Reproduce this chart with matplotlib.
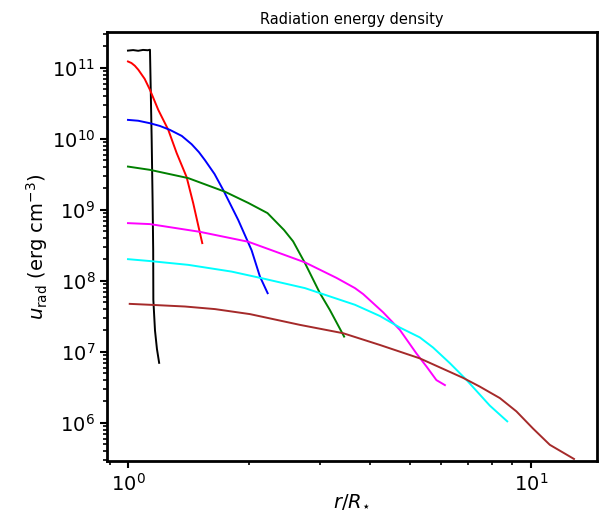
import matplotlib
matplotlib.use("Agg")
import matplotlib.pyplot as plt
from matplotlib.ticker import NullFormatter
import numpy as np

# ---- data ----
y_major_ticks = [1e6, 1e7, 1e8, 1e9, 1e10, 1e11]
x_major_ticks = [1, 10]

r_black = [1.0, 1.03, 1.06, 1.09, 1.12, 1.134, 1.145, 1.151, 1.155, 1.156, 1.167, 1.18, 1.195]
u_black = [1.75e11, 1.78e11, 1.74e11, 1.79e11, 1.77e11, 1.8e11, 1.0e10, 1.4e9, 2.7e8, 5.4e7, 2.0e7, 1.1e7, 7.0e6]

r_red = [1.0, 1.02, 1.04, 1.061, 1.10, 1.134, 1.189, 1.259, 1.321, 1.398, 1.452, 1.503, 1.529]
u_red = [1.23e11, 1.17e11, 1.07e11, 9.4e10, 7.0e10, 4.9e10, 2.56e10, 1.34e10, 6.3e9, 2.9e9, 1.24e9, 5.2e8, 3.4e8]

r_blue = [1.0, 1.06, 1.134, 1.2, 1.27, 1.36, 1.439, 1.5, 1.553, 1.64, 1.724, 1.878, 2.027, 2.126, 2.222]
u_blue = [1.85e10, 1.8e10, 1.66e10, 1.52e10, 1.34e10, 1.1e10, 8.4e9, 6.5e9, 5.0e9, 3.2e9, 1.9e9, 7.2e8, 2.7e8, 1.15e8, 6.7e7]

r_green = [1.0, 1.134, 1.411, 1.741, 1.99, 2.22, 2.44, 2.57, 2.75, 2.996, 3.17, 3.44]
u_green = [4.07e9, 3.66e9, 2.8e9, 1.8e9, 1.25e9, 9.0e8, 5.2e8, 3.6e8, 1.78e8, 6.7e7, 3.9e7, 1.64e7]

r_magenta = [1.0, 1.134, 1.509, 1.99, 2.273, 2.75, 3.294, 3.66, 3.837, 4.3, 4.73, 5.2, 5.51, 5.83, 6.12]
u_magenta = [6.5e8, 6.3e8, 4.9e8, 3.55e8, 2.7e8, 1.82e8, 1.1e8, 7.9e7, 6.5e7, 3.6e7, 2.04e7, 9.5e6, 6.2e6, 4.0e6, 3.4e6]

r_cyan = [1.0, 1.134, 1.411, 1.808, 2.147, 2.75, 3.66, 4.22, 4.73, 5.3, 5.72, 6.3, 6.92, 7.91, 8.74]
u_cyan = [2.02e8, 1.9e8, 1.68e8, 1.35e8, 1.09e8, 7.9e7, 4.6e7, 3.2e7, 2.2e7, 1.6e7, 1.15e7, 6.9e6, 4.04e6, 1.75e6, 1.05e6]

r_brown = [1.01, 1.134, 1.385, 1.644, 2.008, 2.67, 3.42, 4.22, 5.3, 6.79, 7.47, 8.38, 9.21, 10.13, 11.15, 12.8]
u_brown = [4.74e7, 4.6e7, 4.35e7, 4.0e7, 3.4e7, 2.4e7, 1.83e7, 1.25e7, 8.1e6, 4.3e6, 3.24e6, 2.23e6, 1.45e6, 8.3e5, 4.9e5, 3.1e5]

series = [
    (r_black, u_black, "black"),
    (r_red, u_red, "red"),
    (r_blue, u_blue, "blue"),
    (r_green, u_green, "green"),
    (r_magenta, u_magenta, "magenta"),
    (r_cyan, u_cyan, "cyan"),
    (r_brown, u_brown, "brown"),
]

fig = plt.figure(figsize=(6.1, 5.11), dpi=100)
ax = fig.add_axes([107/610, 1-461/511, (597-107)/610, (461-32)/511])

for r, u, c in series:
    ax.plot(r, u, color=c, lw=1.4)

ax.set_xscale("log")
ax.set_yscale("log")
ax.set_yticks(y_major_ticks)
ax.set_xticks(x_major_ticks)
ax.set_xlim(0.887, 14.6)
ax.set_ylim(2.9e5, 3.2e11)
ax.xaxis.set_minor_formatter(NullFormatter())
ax.yaxis.set_minor_formatter(NullFormatter())

for s in ax.spines.values():
    s.set_linewidth(2)
ax.tick_params(which="major", labelsize=14, width=1.5, length=5)
ax.tick_params(which="minor", width=1.2, length=3)

ax.set_title("Radiation energy density", fontsize=10.5)
ax.set_xlabel(r"$r/R_{\star}$", fontsize=14, labelpad=-2)
ax.set_ylabel(r"$u_{\rm rad}$ (erg cm$^{-3}$)", fontsize=14, labelpad=1)

fig.savefig("out.png", dpi=100)
